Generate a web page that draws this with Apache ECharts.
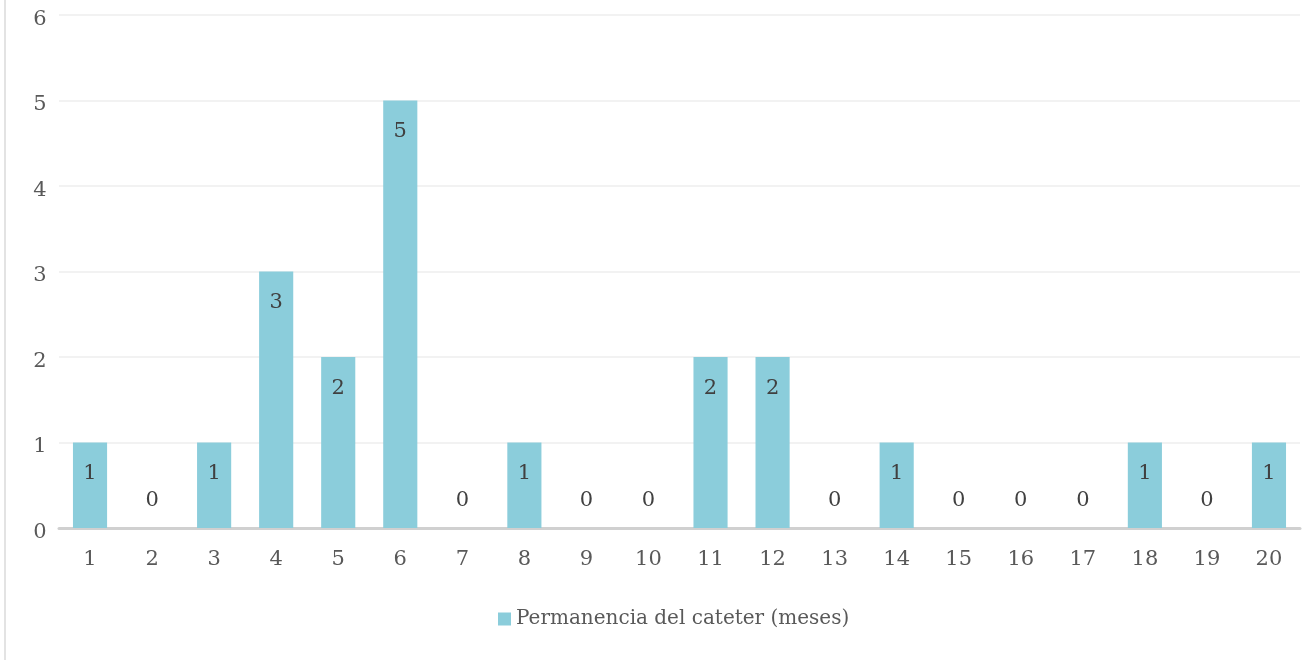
<!DOCTYPE html>
<html><head><meta charset="utf-8">
<script src="https://cdn.jsdelivr.net/npm/echarts@6/dist/echarts.min.js"></script>
<style>
html,body{margin:0;padding:0;background:#fff;}
#wrap{position:absolute;left:0;top:0;width:1306px;height:660px;}
#edge{position:absolute;left:4px;top:0;width:2px;height:660px;background:#e3e3e3;}
#c{position:absolute;left:0;top:0;width:1306px;height:660px;}
</style></head>
<body><div id="wrap"><div id="edge"></div><div id="c"></div></div>
<script>
const categories = ['1','2','3','4','5','6','7','8','9','10','11','12','13','14','15','16','17','18','19','20'];
const values = [1,0,1,3,2,5,0,1,0,0,2,2,0,1,0,0,0,1,0,1];
const seriesName = 'Permanencia del cateter (meses)';
const yTicks = {min:0, max:6, interval:1};

const font = "'DejaVu Serif', 'Liberation Serif', serif";
const chart = echarts.init(document.getElementById('c'));
const data = values.map(v => v === 0
  ? {value:v, label:{position:'top', distance:17}}
  : {value:v});
chart.setOption({
  animation:false,
  grid:{left:59, right:6, top:15, bottom:132},
  legend:{
    bottom:26, left:493, itemWidth:13, itemHeight:13, itemGap:6,
    icon:'rect',
    textStyle:{fontFamily:font, fontSize:20, color:'#595959'},
    data:[seriesName]
  },
  xAxis:{
    type:'category', data:categories,
    axisLine:{lineStyle:{color:'#d0d0d0', width:3}},
    axisTick:{show:false},
    axisLabel:{fontFamily:font, fontSize:21, color:'#595959', margin:21}
  },
  yAxis:{
    type:'value', min:yTicks.min, max:yTicks.max, interval:yTicks.interval,
    axisLine:{show:false}, axisTick:{show:false},
    splitLine:{lineStyle:{color:'#f2f2f2', width:2}},
    axisLabel:{
      margin:19, align:'center',
      formatter: v => '{t|' + v + '}',
      rich:{t:{fontFamily:font, fontSize:21, color:'#595959', padding:[9,0,0,0]}}
    }
  },
  series:[{
    name:seriesName, type:'bar', data:data, barWidth:'55%',
    itemStyle:{color:'#8bcddb'},
    label:{show:true, position:'insideTop', distance:21, fontFamily:font, fontSize:21, color:'#404040'}
  }]
});
</script></body></html>
